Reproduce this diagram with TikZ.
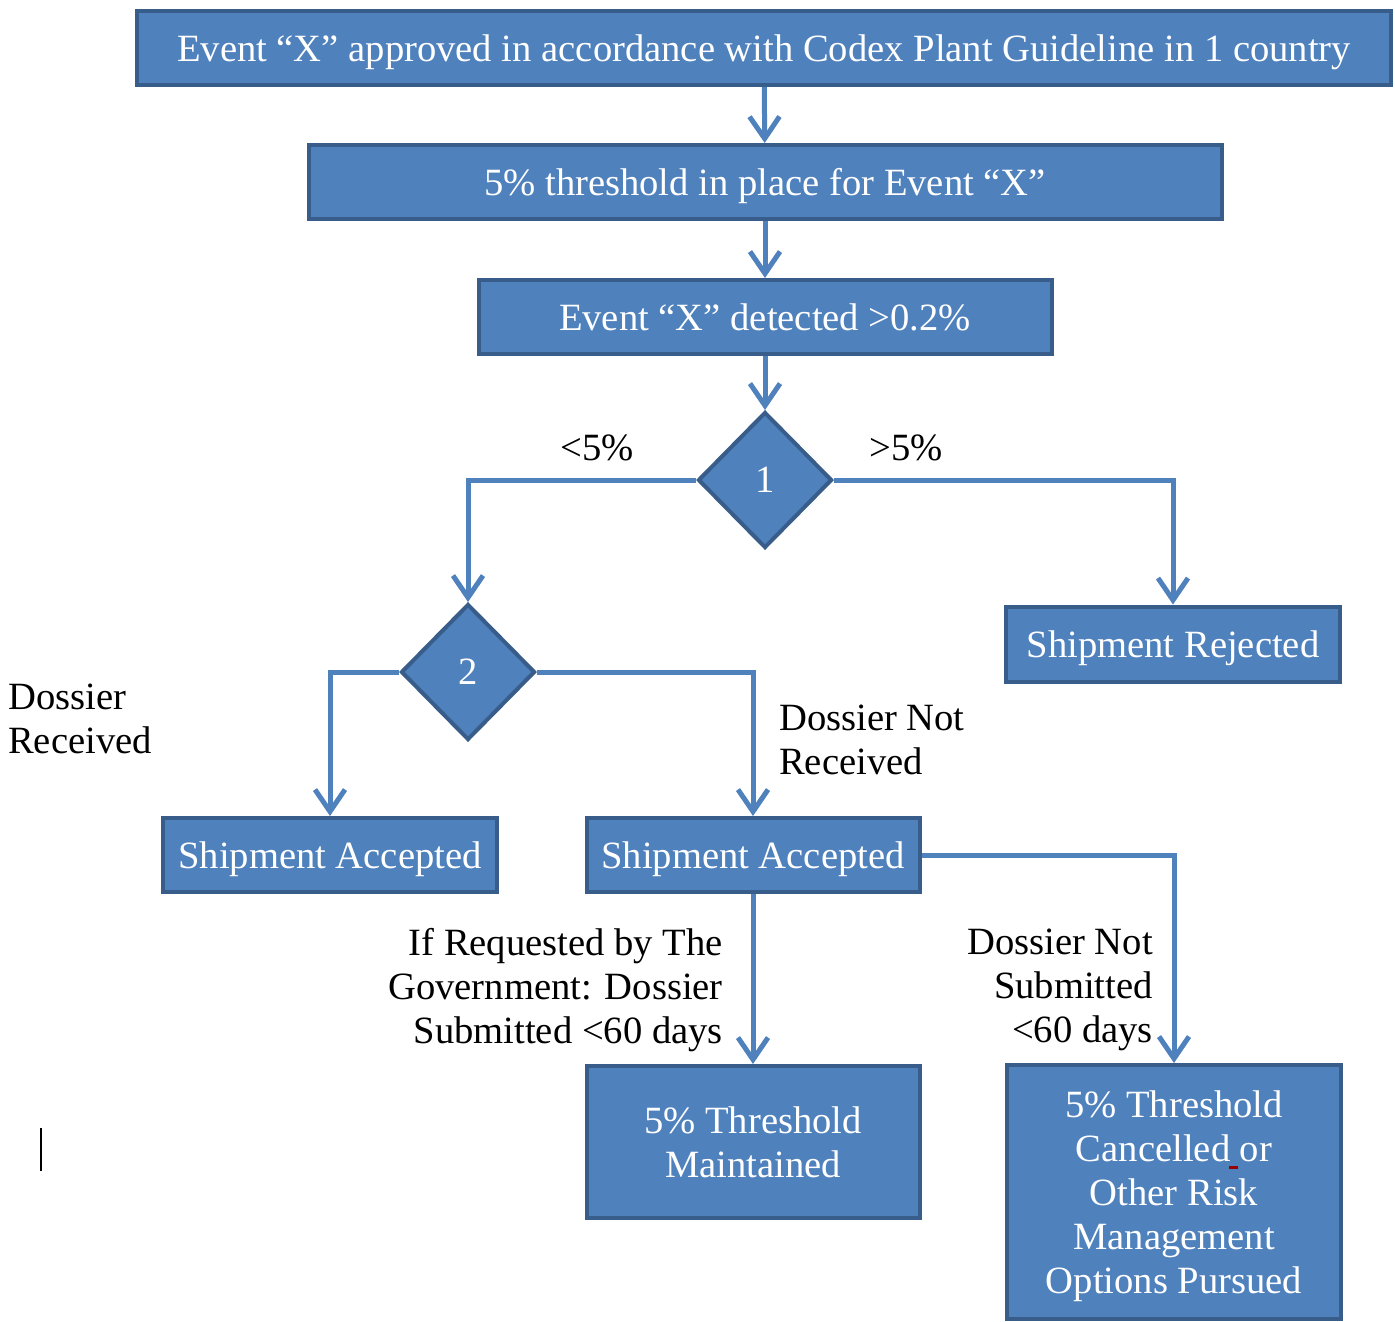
\documentclass[tikz,border=0pt]{standalone}
\usepackage{fontspec}
\setmainfont{Liberation Serif}
\usetikzlibrary{shapes.geometric,arrows.meta,positioning}
\definecolor{boxfill}{HTML}{4F81BD}
\definecolor{boxline}{HTML}{385D8A}
\tikzset
{
    stepbox/.style = {rectangle, draw=boxline, fill=boxfill, line width=4pt, text=white, align=center, inner sep=0pt, text depth=0pt},
    decision/.style = {diamond, aspect=1, draw=boxline, fill=boxfill, line width=4pt, text=white, inner sep=0pt, minimum width=134pt, minimum height=136pt},
    flow/.style = {draw=boxfill, line width=5pt, -{Straight Barb[length=22pt, width=30pt, line width=5pt]}},
    branch/.style = {inner sep=0pt, text=black}
}

\begin{document}
\begin{tikzpicture}[x=1pt, y=-1pt, font=\fontsize{38.6}{44}\selectfont]
\useasboundingbox (0,0) rectangle (1395,1322);
% boxes
\node[stepbox, minimum width=1254pt, minimum height=74pt] (approved) at (764,48) {Event “X” approved in accordance with Codex Plant Guideline in 1 country};
\node[stepbox, minimum width=913pt, minimum height=74pt] (threshold) at (765,182) {5\% threshold in place for Event “X”};
\node[stepbox, minimum width=573pt, minimum height=74pt] (detected) at (765,317) {Event “X” detected >0.2\%};
\node[decision] (check1) at (765,480) {1};
\node[stepbox, minimum width=334pt, minimum height=75pt] (rejected) at (1173,644) {Shipment Rejected};
\node[decision] (check2) at (468,672) {2};
\node[stepbox, minimum width=334pt, minimum height=74pt] (acceptedA) at (330,855) {Shipment Accepted};
\node[stepbox, minimum width=333pt, minimum height=74pt] (acceptedB) at (753,855) {Shipment Accepted};
\node[stepbox, minimum width=333pt, minimum height=152pt] (maintained) at (753,1142) {5\% Threshold\\Maintained};
\node[stepbox, minimum width=334pt, minimum height=254pt] (cancelled) at (1174,1192) {5\% Threshold\\Cancelled or\\Other Risk\\Management\\Options Pursued};
% labels
\node[branch] (lowlabel) at (597,448) {<5\%};
\node[branch] (highlabel) at (906,448) {>5\%};
\node[branch, anchor=west, align=left] (received) at (8,719) {Dossier\\Received};
\node[branch, anchor=west, align=left] (notreceived) at (779,740) {Dossier Not\\Received};
\node[branch, anchor=east, align=right] (submitted) at (723,990) {If Requested by The\\Government: Dossier\\Submitted <60 days};
\node[branch, anchor=east, align=right] (notsubmitted) at (1153,990) {Dossier Not\\Submitted\\<60 days};
% connectors
\draw[flow] (approved) -- (threshold);
\draw[flow] (threshold) -- (detected);
\draw[flow] (detected) -- (check1.north);
\draw[flow] (check1.west) -| (check2.north);
\draw[flow] (check1.east) -| (rejected.north);
\draw[flow] (check2.west) -| (acceptedA.north);
\draw[flow] (check2.east) -| (acceptedB.north);
\draw[flow] (acceptedB) -- (maintained);
\draw[flow] (acceptedB.east) -| (cancelled.north);
% cursor mark and spelling mark
\draw[black, line width=2pt] (41,1128) -- (41,1171);
\draw[red!60!black, line width=3pt] (1229,1167) -- (1238,1167);
\end{tikzpicture}
\end{document}
